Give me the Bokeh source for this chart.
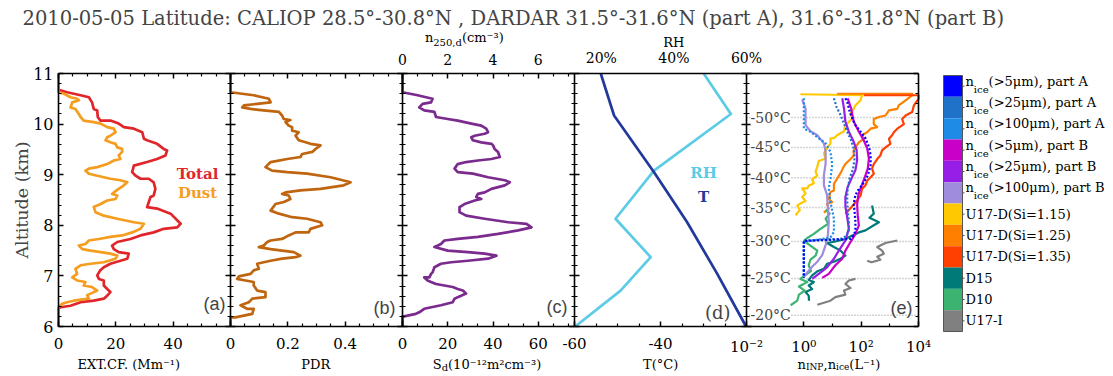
import math
from bokeh.plotting import figure
from bokeh.models import Range1d, LinearAxis, LogAxis, LogScale, FixedTicker, Label
from bokeh.embed import file_html
from bokeh.resources import INLINE

# ---------------- data (altitude km, value) ----------------
TITLE = "2010-05-05  Latitude: CALIOP 28.5°-30.8°N , DARDAR 31.5°-31.6°N (part A), 31.6°-31.8°N (part B)"

TOTAL_EXT = [(11.0, 0), (10.68, 0), (10.63, 3.0), (10.57, 7.7), (10.53, 10.6), (10.43, 11.7), (10.30, 12.3),
             (10.27, 13.5), (10.14, 13.7), (10.07, 14.6), (10.07, 18.1), (10.01, 21.0), (9.94, 22.8), (9.91, 26.3),
             (9.84, 29.2), (9.71, 29.8), (9.68, 30.9), (9.61, 34.4), (9.51, 36.7), (9.48, 37.9), (9.38, 37.3),
             (9.31, 34.4), (9.25, 30.9), (9.18, 26.3), (9.05, 25.7), (8.98, 26.9), (8.92, 28.6), (8.92, 31.5),
             (8.85, 33.2), (8.72, 33.8), (8.59, 33.2), (8.56, 32.1), (8.46, 31.5), (8.36, 30.9), (8.33, 34.4),
             (8.23, 39.1), (8.03, 42.6), (7.96, 41.4), (7.93, 36.7), (7.86, 33.2), (7.80, 28.6), (7.73, 25.1),
             (7.67, 20.5), (7.60, 18.7), (7.53, 19.3), (7.47, 21.0), (7.44, 24.5), (7.34, 24.0), (7.30, 21.6),
             (7.24, 18.1), (7.17, 15.8), (7.11, 14.6), (7.01, 13.5), (6.94, 14.1), (6.91, 15.8), (6.81, 15.8),
             (6.74, 17.0), (6.68, 18.1), (6.61, 17.0), (6.55, 15.8), (6.51, 12.3), (6.48, 7.7), (6.41, 4.2),
             (6.38, 0.7), (6.35, 0), (6.0, 0)]

DUST_EXT = [(11.0, 0), (10.63, 0), (10.60, 1.9), (10.53, 4.2), (10.50, 6.5), (10.47, 7.1), (10.43, 4.8),
            (10.33, 4.2), (10.30, 5.9), (10.20, 7.1), (10.14, 7.7), (10.07, 8.8), (10.04, 12.3), (10.01, 14.7),
            (9.94, 17.0), (9.91, 19.3), (9.84, 19.9), (9.77, 18.1), (9.74, 17.0), (9.68, 16.4), (9.64, 18.1),
            (9.61, 19.9), (9.54, 20.5), (9.51, 22.2), (9.45, 22.2), (9.38, 21.0), (9.31, 21.6), (9.28, 19.3),
            (9.21, 17.0), (9.15, 13.5), (9.12, 10.6), (9.08, 9.4), (9.02, 10.6), (8.98, 13.5), (8.92, 18.1),
            (8.89, 21.6), (8.85, 24.0), (8.79, 22.8), (8.72, 21.0), (8.65, 19.3), (8.62, 18.7), (8.59, 20.5),
            (8.52, 19.9), (8.49, 17.0), (8.42, 14.7), (8.36, 12.3), (8.26, 12.9), (8.19, 15.8), (8.13, 20.5),
            (8.06, 26.3), (8.03, 29.8), (7.93, 28.6), (7.86, 25.7), (7.80, 22.2), (7.77, 18.1), (7.73, 14.1),
            (7.70, 10.6), (7.63, 9.4), (7.60, 7.1), (7.53, 8.3), (7.50, 11.2), (7.47, 14.7), (7.44, 18.1),
            (7.40, 20.5), (7.34, 19.9), (7.27, 15.8), (7.24, 11.2), (7.21, 7.7), (7.14, 5.9), (7.04, 6.5),
            (6.97, 4.8), (6.91, 6.5), (6.88, 9.4), (6.81, 8.8), (6.78, 11.7), (6.71, 13.5), (6.65, 11.2),
            (6.62, 10.0), (6.55, 10.6), (6.51, 5.3), (6.48, 3.0), (6.45, 1.3), (6.38, 0), (6.0, 0)]

PDR = [(11.0, 0), (10.63, 0), (10.57, 0.081), (10.50, 0.134), (10.43, 0.140), (10.40, 0.093), (10.37, 0.047),
       (10.33, 0.041), (10.30, 0.070), (10.27, 0.116), (10.24, 0.169), (10.17, 0.180), (10.10, 0.186),
       (10.08, 0.209), (10.04, 0.192), (9.97, 0.203), (9.94, 0.215), (9.87, 0.215), (9.84, 0.238), (9.77, 0.227),
       (9.68, 0.238), (9.64, 0.262), (9.61, 0.279), (9.58, 0.314), (9.51, 0.297), (9.45, 0.285), (9.41, 0.250),
       (9.35, 0.244), (9.31, 0.198), (9.25, 0.140), (9.15, 0.122), (9.08, 0.145), (9.05, 0.198), (9.02, 0.267),
       (8.95, 0.349), (8.85, 0.419), (8.79, 0.395), (8.72, 0.314), (8.69, 0.244), (8.65, 0.192), (8.62, 0.180),
       (8.59, 0.203), (8.52, 0.209), (8.46, 0.186), (8.42, 0.157), (8.29, 0.140), (8.23, 0.169), (8.16, 0.215),
       (8.13, 0.267), (8.06, 0.314), (8.00, 0.320), (7.93, 0.279), (7.86, 0.273), (7.86, 0.227), (7.80, 0.203),
       (7.73, 0.180), (7.70, 0.140), (7.67, 0.128), (7.60, 0.116), (7.57, 0.099), (7.53, 0.140), (7.50, 0.180),
       (7.47, 0.221), (7.40, 0.244), (7.37, 0.227), (7.34, 0.180), (7.30, 0.140), (7.27, 0.116), (7.24, 0.093),
       (7.14, 0.099), (7.11, 0.081), (7.04, 0.070), (6.99, 0.029), (6.94, 0.023), (6.91, 0.052), (6.88, 0.081),
       (6.81, 0.081), (6.71, 0.093), (6.68, 0.122), (6.58, 0.122), (6.55, 0.076), (6.48, 0.064), (6.42, 0.035),
       (6.35, 0.058), (6.35, 0.081), (6.25, 0.076), (6.18, 0.017), (6.18, 0), (6.0, 0)]

S_D = [(11.0, 0), (10.63, 0), (10.57, 6.7), (10.53, 10.4), (10.50, 13.3), (10.43, 12.6), (10.40, 8.9),
       (10.33, 7.4), (10.27, 9.6), (10.24, 14.1), (10.14, 14.8), (10.10, 20.0), (10.07, 24.4), (10.01, 30.4),
       (9.97, 34.8), (9.91, 37.0), (9.84, 37.8), (9.81, 36.3), (9.77, 31.9), (9.74, 30.4), (9.68, 31.1),
       (9.64, 34.8), (9.61, 39.3), (9.58, 40.0), (9.51, 40.7), (9.45, 42.2), (9.35, 43.0), (9.31, 39.3),
       (9.28, 33.3), (9.25, 28.1), (9.21, 24.4), (9.12, 23.0), (9.05, 24.4), (9.02, 31.1), (8.95, 37.8),
       (8.89, 45.2), (8.85, 47.4), (8.79, 45.2), (8.72, 39.3), (8.65, 36.3), (8.62, 33.3), (8.56, 32.6),
       (8.52, 34.8), (8.49, 31.9), (8.42, 27.4), (8.36, 25.2), (8.26, 25.2), (8.19, 28.1), (8.13, 36.3),
       (8.06, 46.7), (8.03, 54.8), (7.96, 57.0), (7.90, 51.1), (7.83, 42.2), (7.77, 33.3), (7.73, 24.4),
       (7.70, 18.5), (7.63, 17.0), (7.60, 15.6), (7.57, 14.1), (7.50, 20.0), (7.47, 28.9), (7.44, 36.3),
       (7.40, 41.5), (7.34, 37.8), (7.30, 28.9), (7.27, 21.5), (7.24, 17.0), (7.17, 14.1), (7.07, 13.3),
       (7.04, 12.6), (6.97, 11.9), (6.97, 9.6), (6.91, 11.1), (6.88, 12.6), (6.84, 14.8), (6.81, 18.5),
       (6.78, 22.2), (6.74, 24.4), (6.71, 26.7), (6.65, 28.1), (6.58, 24.4), (6.55, 23.0), (6.48, 22.2),
       (6.42, 17.0), (6.35, 9.6), (6.28, 7.4), (6.25, 5.9), (6.20, 0.7), (6.20, 0), (6.0, 0)]

TEMP = [(11.0, -53.9), (10.17, -50.8), (9.05, -41.5), (8.06, -33.8), (7.04, -26.8), (6.0, -20.1)]
RH = [(11.0, 48.2), (10.20, 55.7), (9.08, 34.5), (8.13, 23.9), (7.37, 33.6), (6.71, 25.3), (6.0, 12.8)]

# panel (e): log10 of concentration (L^-1)
U17D_115 = [(10.59, -0.12), (10.57, 2.03), (10.47, 1.98), (10.37, 1.80), (10.30, 1.74), (10.21, 1.63),
            (10.11, 1.69), (9.98, 1.45), (9.86, 1.40), (9.78, 1.16), (9.72, 1.05), (9.72, 0.93), (9.62, 0.93),
            (9.52, 0.81), (9.42, 0.70), (9.32, 0.76), (9.27, 0.52), (9.16, 0.47), (9.06, 0.41), (8.98, 0.47),
            (8.91, 0.29), (8.83, 0.35), (8.78, 0.17), (8.73, 0.12), (8.73, -0.06), (8.63, 0.06), (8.56, -0.06),
            (8.48, 0.06), (8.43, -0.12), (8.39, -0.23), (8.30, -0.14), (8.20, -0.29)]
U17D_125 = [(10.60, 1.16), (10.60, 3.78), (10.57, 3.78), (10.47, 3.55), (10.37, 3.31), (10.30, 3.26),
            (10.27, 2.97), (10.17, 2.85), (10.14, 2.62), (10.10, 2.44), (10.00, 2.44), (9.94, 2.56), (9.91, 2.33),
            (9.84, 2.21), (9.78, 2.03), (9.71, 2.09), (9.64, 1.92), (9.54, 1.80), (9.48, 1.74), (9.38, 1.74),
            (9.31, 1.63), (9.21, 1.45), (9.15, 1.38), (9.05, 1.30), (8.92, 1.16), (8.82, 1.05), (8.69, 1.05),
            (8.66, 0.93), (8.52, 0.87), (8.46, 0.99), (8.42, 0.81), (8.33, 0.87), (8.25, 0.70)]
U17D_135 = [(10.57, 2.09), (10.57, 4.0), (10.50, 4.0), (10.37, 3.84), (10.24, 3.78), (10.17, 3.55),
            (10.10, 3.43), (10.00, 3.49), (9.91, 3.26), (9.84, 3.14), (9.78, 3.08), (9.71, 2.97), (9.61, 3.02),
            (9.54, 2.85), (9.48, 2.73), (9.38, 2.67), (9.31, 2.56), (9.21, 2.44), (9.12, 2.38), (9.02, 2.44),
            (8.95, 2.33), (8.88, 2.21), (8.79, 2.15), (8.72, 2.03), (8.59, 1.98), (8.49, 1.86), (8.42, 1.75),
            (8.33, 1.62), (8.23, 1.45)]
D15 = [(8.39, 2.38), (8.23, 2.44), (8.15, 2.29), (8.06, 2.62), (8.00, 2.44), (7.90, 2.15), (7.86, 1.92),
       (7.80, 1.69), (7.73, 1.45), (7.68, 1.10), (7.65, 0.81), (7.57, 1.05), (7.50, 1.28), (7.40, 1.45),
       (7.34, 1.28), (7.28, 1.05), (7.24, 0.81), (7.14, 0.70), (7.09, 0.47), (7.01, 0.29), (6.92, 0.17),
       (6.88, 0.35), (6.81, 0.17), (6.74, 0.29), (6.68, 0.06), (6.61, 0.17), (6.51, 0.18)]
D10 = [(8.31, 0.76), (8.23, 0.90), (8.13, 0.76), (8.03, 0.85), (7.93, 0.58), (7.83, 0.35), (7.75, 0.12),
       (7.69, 0.0), (7.60, 0.23), (7.50, 0.47), (7.40, 0.41), (7.32, 0.23), (7.21, 0.17), (7.10, 0.25),
       (6.94, -0.12), (6.88, 0.12), (6.79, -0.17), (6.71, 0.03), (6.63, -0.17), (6.51, -0.23), (6.42, -0.46)]
U17_I_UPPER = [(7.70, 3.26), (7.65, 2.85), (7.57, 2.56), (7.50, 2.73), (7.44, 2.79), (7.38, 2.56),
               (7.32, 2.67), (7.27, 2.36), (7.30, 2.21)]
U17_I_LOWER = [(6.94, 1.80), (6.91, 1.57), (6.84, 1.45), (6.76, 1.63), (6.71, 1.40), (6.63, 1.45),
               (6.58, 1.10), (6.51, 0.93), (6.43, 0.47)]
ICE5_A = [(10.51, 1.45), (10.41, 1.53), (10.24, 1.60), (10.11, 1.69), (9.98, 1.80), (9.85, 1.98), (9.72, 2.15),
          (9.55, 2.27), (9.39, 2.33), (9.19, 2.33), (8.98, 2.23), (8.79, 2.03), (8.70, 1.90), (8.60, 1.80),
          (8.43, 1.74), (8.27, 1.77), (8.07, 1.80), (7.90, 1.80), (7.80, 1.74), (7.73, 1.63), (7.69, 0.0),
          (6.96, 0.0)]
ICE25_A = [(10.51, 1.05), (10.34, 1.14), (10.18, 1.28), (10.01, 1.40), (9.85, 1.51), (9.68, 1.65), (9.52, 1.74),
           (9.32, 1.77), (9.12, 1.72), (8.93, 1.60), (8.73, 1.53), (8.53, 1.51), (8.30, 1.53), (8.07, 1.57),
           (7.90, 1.57), (7.79, 1.49), (7.73, 1.28), (7.70, 0.0), (6.96, 0.0)]
ICE100_A = [(10.51, 0.0), (9.91, 0.0), (9.85, 0.23), (9.72, 0.52), (9.62, 0.76), (9.45, 0.93), (9.19, 0.99),
            (8.93, 0.93), (8.73, 0.87), (8.46, 0.93), (8.13, 1.05), (7.87, 1.05), (7.76, 0.93), (7.67, 0.0),
            (6.96, 0.0)]
ICE5_B = [(10.51, 1.53), (10.31, 1.65), (10.05, 1.74), (9.85, 1.92), (9.68, 2.09), (9.52, 2.21), (9.32, 2.27),
          (9.12, 2.23), (8.94, 2.12), (8.76, 2.00), (8.60, 1.90), (8.40, 1.86), (8.20, 1.88), (8.00, 1.92),
          (7.83, 1.80), (7.67, 1.63), (7.50, 1.45), (7.34, 1.34), (7.21, 1.10), (7.04, 0.87), (6.96, 0.64)]
ICE25_B = [(10.51, 1.34), (10.31, 1.40), (10.05, 1.45), (9.85, 1.57), (9.65, 1.74), (9.49, 1.84), (9.29, 1.86),
           (9.09, 1.80), (8.91, 1.65), (8.76, 1.53), (8.56, 1.45), (8.37, 1.45), (8.17, 1.51), (7.94, 1.57),
           (7.70, 1.45), (7.50, 1.22), (7.34, 1.05), (7.17, 0.81), (7.04, 0.52), (6.94, 0.29)]
ICE100_B = [(10.49, -0.06), (10.31, 0.06), (9.98, 0.06), (9.86, 0.23), (9.78, 0.47), (9.62, 0.70), (9.45, 0.76),
            (9.22, 0.76), (8.99, 0.70), (8.79, 0.70), (8.60, 0.81), (8.33, 0.84), (8.07, 0.87), (7.81, 0.84),
            (7.61, 0.76), (7.41, 0.64), (7.28, 0.47), (7.18, 0.29), (7.07, 0.12), (6.98, 0.0)]

GRID_TEMPS = [-50, -45, -40, -35, -30, -25, -20]
GRID_ALTS = [10.13, 9.54, 8.94, 8.35, 7.68, 6.95, 6.22]

LEGEND_LABELS = [("n", "ice", "(>5μm), part A"), ("n", "ice", "(>25μm), part A"), ("n", "ice", "(>100μm), part A"),
                 ("n", "ice", "(>5μm), part B"), ("n", "ice", "(>25μm), part B"), ("n", "ice", "(>100μm), part B"),
                 "U17-D(Si=1.15)", "U17-D(Si=1.25)", "U17-D(Si=1.35)", "D15", "D10", "U17-I"]
LEGEND_COLORS = ["#0000ff", "#1f72c8", "#1e8ce6", "#c800c8", "#961ee6", "#a08cdc",
                 "#ffc800", "#ff8000", "#ff4000", "#007a78", "#3cb371", "#808080"]

# ---------------- layout & styling ----------------
SERIF = "DejaVu Serif"
SANS = "Liberation Sans"
C_TOTAL, C_DUST, C_PDR, C_SD, C_RH, C_T = "#e0262b", "#f59d1f", "#c0650f", "#7b2a8e", "#5ccbe6", "#22399b"

A_LIM, B_LIM, C_LIM, N_LIM = (0, 60), (0, 0.6), (0, 76), (0, 7.6)
T_LIM, RH_LIM, E_LIM = (-60, -20), (12.6, 60), (1e-2, 1e4)
ALT_LIM = (6, 11)

W, H = 1113, 376          # canvas size
PX0, PW = 58, 172         # left edge of first panel, panel width (px)
FT, FB = 73, 326          # frame top / bottom of panels (px)


def panel_range(lo, hi, k):
    u = (hi - lo) / PW
    c0 = PX0 + k * PW
    return Range1d(lo - c0 * u, lo + (W - c0) * u)


def panel_log_range(lo, hi, k):
    a, b = math.log10(lo), math.log10(hi)
    u = (b - a) / PW
    c0 = PX0 + k * PW
    return Range1d(10 ** (a - c0 * u), 10 ** (a + (W - c0) * u))


def alt_range():
    u = (ALT_LIM[1] - ALT_LIM[0]) / (FB - FT)
    return Range1d(ALT_LIM[0] - (H - FB) * u, ALT_LIM[1] + FT * u)


def unzip(pairs, log=False):
    vals = [(10 ** v if log else v) for a, v in pairs]
    return vals, [a for a, v in pairs]


CW = {' ': .318, '(': .39, ')': .39, ',': .318, '.': .318, '-': .338, '°': .5, '%': .95, 'i': .32, 'l': .32,
      'm': .948, 'n': .644, 'c': .56, 'e': .592, 'd': .64, 'r': .478, 't': .402, 's': .513, 'a': .596,
      'p': .64, 'I': .395, 'N': .837, 'P': .733, 'L': .693, 'S': .685, 'C': .734, 'T': .682, 'X': .773,
      'E': .73, 'F': .694, 'M': .995, 'R': .77, 'D': .83, 'H': .872, 'A': .722, 'U': .812,
      '⁻': .42, '¹': .4, '²': .4, '³': .4, 'μ': .644, '>': .838, '=': .838}


def tw(s, size):
    return sum(CW.get(ch, .636 if ch.isdigit() else .6) for ch in s) * size


def rich(fig, parts, x, y, rn="default", yrn="default", align="center", color="black", font=SERIF):
    widths = [tw(t, s) for t, s, dy in parts]
    off = -sum(widths) / 2 if align == "center" else 0.0
    for (t, s, dy), w in zip(parts, widths):
        fig.add_layout(Label(x=x, y=y, x_range_name=rn, y_range_name=yrn, x_offset=off, y_offset=dy, text=t,
                             text_font=font, text_font_size=f"{s}px", text_color=color, text_align="left",
                             text_baseline="middle"))
        off += w


def style(ax, tin=5, tout=0, min_in=3, min_out=0, size=None, standoff=5):
    ax.axis_line_color = "black"
    ax.axis_line_width = 1.6
    ax.major_tick_line_color = "black"
    ax.major_tick_line_width = 1.5
    ax.minor_tick_line_color = "black"
    ax.minor_tick_line_width = 1.2
    ax.major_tick_in, ax.major_tick_out = tin, tout
    ax.minor_tick_in, ax.minor_tick_out = min_in, min_out
    ax.major_label_text_font = SERIF
    if size:
        ax.major_label_text_font_size = size
        ax.major_label_text_color = "black"
    else:
        ax.major_label_text_color = None
    ax.major_label_standoff = standoff
    return ax


p = figure(width=W, height=H, x_range=Range1d(0, W), y_range=alt_range(),
           x_axis_type=None, y_axis_type=None, output_backend="svg", toolbar_location=None,
           min_border=0, outline_line_color=None)
p.extra_x_ranges = {"a": panel_range(*A_LIM, 0), "b": panel_range(*B_LIM, 1), "c": panel_range(*C_LIM, 2),
                    "n": panel_range(*N_LIM, 2), "d": panel_range(*T_LIM, 3), "rh": panel_range(*RH_LIM, 3),
                    "e": panel_log_range(*E_LIM, 4)}
p.extra_x_scales = {"e": LogScale()}
p.extra_y_ranges = {"py": Range1d(H, 0)}

ALT_TICKS = [6, 7, 8, 9, 10, 11]
ALT_MINOR = [round(6 + 0.2 * i, 1) for i in range(26)]


def alt_ticker():
    return FixedTicker(ticks=ALT_TICKS, minor_ticks=ALT_MINOR)


ax = LinearAxis(x_range_name="a", fixed_location=A_LIM[0], bounds=ALT_LIM, ticker=alt_ticker())
style(ax, 5, 0, 3, 0, "16px", 5)
p.add_layout(ax, "left")
for rn, loc in [("b", B_LIM[0]), ("c", C_LIM[0]), ("d", T_LIM[0]), ("e", E_LIM[0])]:
    ax = LinearAxis(x_range_name=rn, fixed_location=loc, bounds=ALT_LIM, ticker=alt_ticker())
    style(ax, 5, 5, 3, 3)
    p.add_layout(ax, "left")
ax = LinearAxis(x_range_name="e", fixed_location=E_LIM[1], bounds=ALT_LIM, ticker=alt_ticker())
style(ax, 5, 0, 3, 0)
p.add_layout(ax, "right")


def xaxis(rn, lim, ticks, minor, side, size=None, standoff=11, overrides=None, log=False, tin=5, min_in=3):
    cls = LogAxis if log else LinearAxis
    loc = ALT_LIM[0] if side == "below" else ALT_LIM[1]
    a = cls(x_range_name=rn, bounds=lim, fixed_location=loc, ticker=FixedTicker(ticks=ticks, minor_ticks=minor))
    style(a, tin, 0, min_in, 0, size, standoff)
    if overrides:
        a.major_label_overrides = overrides
    p.add_layout(a, side)


A_MINOR = [5, 10, 15, 25, 30, 35, 45, 50, 55]
B_MINOR = [0.05, 0.1, 0.15, 0.25, 0.3, 0.35, 0.45, 0.5, 0.55]
C_MINOR = [round(20 / 3 * i, 2) for i in range(1, 12) if i % 3]
N_MINOR = [round(2 / 3 * i, 3) for i in range(1, 12) if i % 3]
T_MINOR = [-55, -50, -45, -35, -30, -25]
xaxis("a", A_LIM, [0, 20, 40], A_MINOR, "below", "15px")
xaxis("b", B_LIM, [0, 0.2, 0.4], B_MINOR, "below", "15px", overrides={0: "0"})
xaxis("c", C_LIM, [0, 20, 40, 60], C_MINOR, "below", "15px")
xaxis("d", T_LIM, [-60, -40], T_MINOR, "below", "15px", overrides={-60: "-60", -40: "-40"})
xaxis("e", E_LIM, [1e-2, 1, 1e2, 1e4], [1e-1, 1e1, 1e3], "below", "15px", log=True,
      overrides={1e-2: "10⁻²", 1: "10⁰", 1e2: "10²", 1e4: "10⁴"})
xaxis("a", A_LIM, [0, 20, 40], A_MINOR, "above")
xaxis("b", B_LIM, [0, 0.2, 0.4], B_MINOR, "above")
xaxis("n", N_LIM, [0, 2, 4, 6], N_MINOR, "above", "14px", standoff=9)
xaxis("rh", RH_LIM, [20, 40, 60], [], "above", "14px", standoff=8,
      overrides={20: "20%", 40: "40%", 60: "60%"}, tin=0, min_in=0)
xaxis("e", E_LIM, [], [], "above", log=True, tin=0, min_in=0)

LW = 2.7
x, y = unzip(TOTAL_EXT); p.line(x, y, x_range_name="a", line_color=C_TOTAL, line_width=LW, line_join="round")
x, y = unzip(DUST_EXT); p.line(x, y, x_range_name="a", line_color=C_DUST, line_width=LW, line_join="round")
x, y = unzip(PDR); p.line(x, y, x_range_name="b", line_color=C_PDR, line_width=LW, line_join="round")
x, y = unzip(S_D); p.line(x, y, x_range_name="c", line_color=C_SD, line_width=LW, line_join="round")
x, y = unzip(RH); p.line(x, y, x_range_name="rh", line_color=C_RH, line_width=LW, line_join="round")
x, y = unzip(TEMP); p.line(x, y, x_range_name="d", line_color=C_T, line_width=LW, line_join="round")

# panel (e)
p.segment(x0=[E_LIM[0]] * len(GRID_ALTS), x1=[E_LIM[1]] * len(GRID_ALTS), y0=GRID_ALTS, y1=GRID_ALTS,
          x_range_name="e", line_color="#a8a8a8", line_dash="1 2", line_width=1.5)
E_SERIES = [(U17D_115, "#ffc800", "solid"), (U17D_125, "#ff8000", "solid"), (U17D_135, "#ff4000", "solid"),
            (D15, "#007a78", "solid"), (D10, "#3cb371", "solid"),
            (U17_I_UPPER, "#808080", "solid"), (U17_I_LOWER, "#808080", "solid"),
            (ICE100_B, "#a08cdc", "solid"), (ICE25_B, "#961ee6", "solid"), (ICE5_B, "#c800c8", "solid"),
            (ICE100_A, "#1e8ce6", "2 2"), (ICE25_A, "#1f72c8", "2 2"), (ICE5_A, "#0000ff", "2 2")]
for data, col, dash in E_SERIES:
    x, y = unzip(data, log=True)
    p.line(x, y, x_range_name="e", line_color=col, line_width=2.2, line_dash=dash, line_join="round")

for t, a in zip(GRID_TEMPS, GRID_ALTS):
    p.add_layout(Label(x=E_LIM[0], y=a, x_range_name="e", x_offset=4, text=f"{t}°C", text_font=SERIF,
                       text_font_size="14px", text_align="left", text_baseline="middle",
                       background_fill_color="white"))

# panel annotations
for rn, xv, off, yv, txt, font in [("a", A_LIM[1], -5, 6.45, "(a)", SANS), ("b", B_LIM[1], -7, 6.36, "(b)", SANS),
                                   ("c", C_LIM[1], -7, 6.38, "(c)", SANS), ("d", T_LIM[1], -16, 6.28, "(d)", SERIF),
                                   ("e", E_LIM[1], -6, 6.36, "(e)", SANS)]:
    p.add_layout(Label(x=xv, y=yv, x_range_name=rn, x_offset=off, text=txt, text_font=font,
                       text_font_size="18px", text_align="right", text_baseline="middle"))

for rn, xv, yv, txt, col in [("a", 48.5, 9.02, "Total", C_TOTAL), ("a", 48.5, 8.63, "Dust", C_DUST),
                             ("d", -30, 9.04, "RH", C_RH), ("d", -30, 8.55, "T", C_T)]:
    p.add_layout(Label(x=xv, y=yv, x_range_name=rn, text=txt, text_font=SERIF, text_font_size="15px",
                       text_font_style="bold", text_color=col, text_align="center", text_baseline="middle"))

p.add_layout(Label(x=-12.6, y=8.5, x_range_name="a", text="Altitude (km)", angle=math.pi / 2,
                   text_font=SERIF, text_font_size="17.5px", text_align="center", text_baseline="middle"))

YB = 5.25
rich(p, [("EXT.CF. (Mm⁻¹)", 13, 0)], 25, YB, "a")
rich(p, [("PDR", 13, 0)], 0.3, YB, "b")
rich(p, [("S", 13, 0), ("d", 10, -3), ("(10⁻¹²m²cm⁻³)", 13, 0)], 36.7, YB, "c")
rich(p, [("T(°C)", 13, 0)], -40, YB, "d")
rich(p, [("n", 13, 0), ("INP", 9, -3), (",n", 13, 0), ("ice", 9, -3), ("(L⁻¹)", 13, 0)], 16, YB, "e")
rich(p, [("n", 13, 0), ("250,d", 10, -5), ("(cm⁻³)", 13, 0)], 2.7, 11.72, "n")
rich(p, [("RH", 13, 0)], 40, 11.62, "rh")

# ---------------- legend (colour blocks, px coordinates) ----------------
ITEM_H = 256 / 12
LEG_TOP, LEG_X0, LEG_X1, LEG_TX = 75, 943, 962, 965
idx = list(range(len(LEGEND_COLORS)))
tops = [LEG_TOP + i * ITEM_H for i in idx]
p.quad(left=[LEG_X0] * len(idx), right=[LEG_X1] * len(idx), top=tops, bottom=[t + ITEM_H for t in tops],
       y_range_name="py", fill_color=LEGEND_COLORS, line_color=None)
p.quad(left=[LEG_X0], right=[LEG_X1], top=[LEG_TOP], bottom=[LEG_TOP + len(idx) * ITEM_H], y_range_name="py",
       fill_color=None, line_color="#555555", line_width=1)
p.segment(x0=[LEG_X1] * len(idx), x1=[LEG_X1 + 2] * len(idx), y0=[t + ITEM_H / 2 for t in tops],
          y1=[t + ITEM_H / 2 for t in tops], y_range_name="py", line_color="#555555", line_width=1)
for t, lab in zip(tops, LEGEND_LABELS):
    yc = t + ITEM_H / 2
    if isinstance(lab, tuple):
        rich(p, [(lab[0], 13, 5), (lab[1], 10, -3), (lab[2], 13, 5)], LEG_TX, yc, yrn="py", align="left")
    else:
        rich(p, [(lab, 13, 0)], LEG_TX, yc, yrn="py", align="left")

# ---------------- title ----------------
p.add_layout(Label(x=22, y=18, y_range_name="py", text=TITLE, text_font=SERIF, text_font_size="19.5px",
                   text_align="left", text_baseline="middle"))

open("out.html", "w").write(file_html(p, INLINE))
